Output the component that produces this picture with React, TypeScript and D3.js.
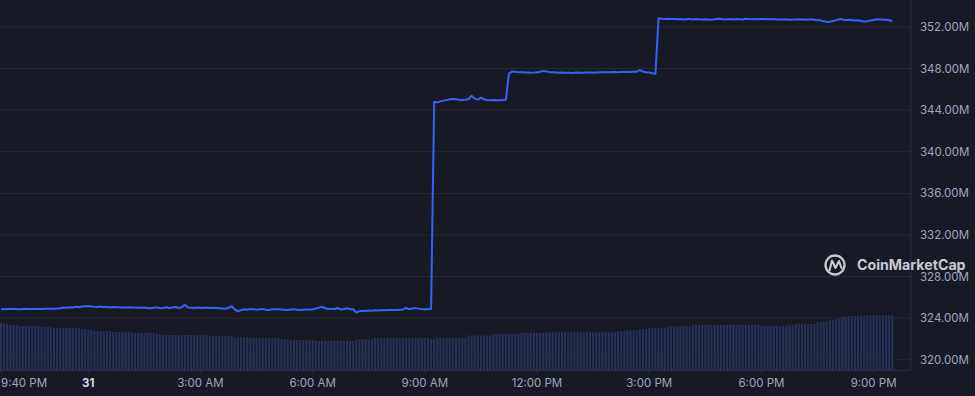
import React, { useEffect, useRef } from "react";
import * as d3 from "d3";

// 5-minute samples, 9:40 PM (30th) through 9:30 PM (31st)
const startTime = "2024-01-30T21:40";
const stepMinutes = 5;

const marketCap = [
  // 9:40 PM -> 9:10 AM
  324.88, 324.87, 324.89, 324.88, 324.90, 324.88, 324.87, 324.89, 324.90, 324.88,
  324.89, 324.90, 324.88, 324.89, 324.91, 324.90, 324.92, 324.91, 324.93, 324.95,
  325.02, 325.00, 325.05, 325.03, 325.10, 325.06, 325.12, 325.15, 325.17, 325.13,
  325.10, 325.08, 325.12, 325.06, 325.09, 325.02, 325.08, 325.05, 325.06, 325.04,
  325.03, 325.05, 325.02, 325.03, 325.01, 325.00, 325.02, 324.97, 324.95, 325.00,
  325.04, 324.96, 324.98, 325.06, 324.99, 325.02, 325.08, 324.98, 325.05, 325.30,
  325.02, 325.00, 324.98, 325.02, 324.99, 325.00, 325.01, 324.98, 325.00, 324.99,
  324.96, 324.93, 324.90, 325.00, 325.15, 324.85, 324.65, 324.78, 324.85, 324.82,
  324.88, 324.86, 324.82, 324.85, 324.88, 324.80, 324.78, 324.85, 324.87, 324.86,
  324.84, 324.80, 324.78, 324.83, 324.85, 324.82, 324.80, 324.82, 324.84, 324.83,
  324.86, 324.92, 325.02, 325.10, 324.95, 324.88, 324.92, 324.86, 324.98, 324.84,
  324.88, 324.95, 324.86, 324.88, 324.55, 324.68, 324.72, 324.70, 324.74, 324.72,
  324.76, 324.75, 324.78, 324.77, 324.79, 324.78, 324.80, 324.79, 324.82, 324.84,
  324.98, 324.86, 324.94, 324.97, 324.92, 324.88, 324.86, 324.87, 324.88,
  // 9:15 AM -> 11:10 AM
  344.82, 344.75, 344.85, 344.92, 344.98, 345.05, 345.08, 345.05, 345.00, 344.98,
  345.00, 345.05, 345.38, 345.10, 345.02, 345.20, 345.05, 344.98, 344.96, 344.97,
  344.95, 344.96, 344.97, 345.00,
  // 11:15 AM -> 3:10 PM
  347.55, 347.72, 347.70, 347.66, 347.64, 347.62, 347.63, 347.60, 347.62, 347.65,
  347.70, 347.78, 347.72, 347.66, 347.64, 347.62, 347.60, 347.62, 347.59, 347.61,
  347.58, 347.60, 347.62, 347.60, 347.61, 347.63, 347.62, 347.60, 347.63, 347.62,
  347.64, 347.66, 347.64, 347.66, 347.68, 347.66, 347.69, 347.67, 347.70, 347.68,
  347.72, 347.70, 347.86, 347.72, 347.65, 347.62, 347.55, 347.50,
  // 3:15 PM -> 9:30 PM
  352.84, 352.80, 352.78, 352.80, 352.76, 352.78, 352.74, 352.76, 352.72, 352.75,
  352.78, 352.73, 352.76, 352.74, 352.73, 352.75, 352.72, 352.70, 352.74, 352.80,
  352.76, 352.72, 352.74, 352.76, 352.73, 352.77, 352.74, 352.72, 352.80, 352.76,
  352.74, 352.76, 352.75, 352.77, 352.76, 352.75, 352.74, 352.76, 352.73, 352.72,
  352.74, 352.73, 352.70, 352.72, 352.72, 352.74, 352.73, 352.70, 352.72, 352.74,
  352.70, 352.66, 352.64, 352.55, 352.48, 352.50, 352.58, 352.66, 352.76, 352.72,
  352.66, 352.70, 352.68, 352.62, 352.65, 352.58, 352.52, 352.55, 352.62, 352.68,
  352.74, 352.72, 352.70, 352.70, 352.64, 352.58,
];

// volume per 5-minute bucket (relative units)
const volume = [
  47, 46, 46, 45, 45, 45, 44, 44, 44, 44, 44, 44, 44, 43, 43, 43, 43, 42, 42, 42,
  42, 42, 42, 42, 42, 41.5, 41, 41, 40, 40, 39, 39, 39, 39, 39, 39, 38, 38, 38, 38,
  38, 38, 38, 37, 37, 37, 37, 37, 37, 37, 36, 36, 35, 35, 35, 35, 35, 35, 35, 35,
  35, 35, 35, 35, 35, 35, 35, 34.3, 34.3, 34.3, 34.3, 34.3, 34.3, 34.3, 34.3, 32.7, 32.7, 32.7,
  32.7, 32.7, 32, 32, 32, 32, 32, 32, 32, 32, 32, 32, 31, 31, 31, 30, 30, 30, 30, 30,
  30, 30, 30, 29, 29, 29, 29, 29, 29, 29, 29, 29, 29, 29, 29, 29, 30.7, 30.7, 30.7, 30.7,
  30.7, 30.7, 32, 32, 32, 32, 32, 32, 32, 32, 32, 32, 32, 32, 32, 32, 32, 32, 32, 32,
  31, 31, 32.3, 32.3, 32.3, 32.3, 32.3, 32.3, 32.3, 32.3, 32.3, 32.3, 34.5, 34.5, 34.5, 34.5,
  34.5, 34.5, 34.5, 34.5, 36, 36, 36, 36, 36, 36, 36, 36, 36, 37, 37, 37, 37, 37,
  37, 37, 37, 37, 37.7, 37.7, 37.7, 37.7, 37.7, 37.7, 37.7, 37.7, 37.7, 37.7, 37.7, 37.7, 37.7, 37.7,
  37.7, 37.7, 37.7, 37.7, 37.7, 37.7, 37.7, 37.7, 38.7, 38.7, 38.7, 39.7, 39.7, 39.7, 39.7, 41,
  41, 41, 42.3, 42.3, 42.3, 42.3, 42.3, 42.3, 43.7, 43.7, 43.7, 43.7, 43.7, 43.7, 43.7, 43.7,
  45, 45, 45, 45, 45, 45, 45, 45, 45, 45, 45, 45, 45, 45.7, 45, 45, 45, 45, 45, 45,
  45, 45, 44, 44, 44, 44, 44, 44, 44, 44, 44, 45, 45, 46, 46, 46, 46, 46, 46, 46,
  47.7, 47.7, 49, 49, 50, 50, 51, 51, 53, 53, 54, 54, 54, 54, 54, 54, 55, 55, 55, 55,
  55, 55, 55, 55, 55,
];

const yTicks = [320, 324, 328, 332, 336, 340, 344, 348, 352];
const xTicks = [
  "2024-01-30T21:40", "2024-01-31T00:00", "2024-01-31T03:00", "2024-01-31T06:00",
  "2024-01-31T09:00", "2024-01-31T12:00", "2024-01-31T15:00", "2024-01-31T18:00",
  "2024-01-31T21:00",
];
const xDomain = ["2024-01-30T21:40", "2024-01-31T22:00"];

const W = 975;
const H = 396;

export default function App() {
  const ref = useRef<SVGSVGElement>(null);

  useEffect(() => {
    const svg = d3.select(ref.current);
    svg.selectAll("*").remove();

    const parse = d3.timeParse("%Y-%m-%dT%H:%M");
    const t0 = parse(startTime) as Date;
    const times = marketCap.map((_, i) => d3.timeMinute.offset(t0, i * stepMinutes));

    const plotRight = 911;
    const plotBottom = 370;

    const x = d3.scaleTime()
      .domain(xDomain.map(d => parse(d) as Date))
      .range([1, plotRight]);

    const y = d3.scaleLinear().domain([320, 352]).range([359.8, 27]);
    const v = d3.scaleLinear().domain([0, 55]).range([plotBottom, 315]);

    svg.append("rect").attr("width", W).attr("height", H).attr("fill", "#171924");

    // volume bars
    svg.append("g")
      .selectAll("rect")
      .data(volume)
      .enter()
      .append("rect")
      .attr("x", (_, i) => x(times[i]) - 1)
      .attr("y", d => v(d))
      .attr("width", 2)
      .attr("height", d => plotBottom - v(d))
      .attr("fill", "#27325c");

    // grid
    svg.append("g")
      .selectAll("line")
      .data(yTicks)
      .enter()
      .append("line")
      .attr("x1", 0)
      .attr("x2", plotRight)
      .attr("y1", d => y(d))
      .attr("y2", d => y(d))
      .attr("stroke", "#2a2d3b")
      .attr("stroke-opacity", 0.8);

    // frame
    svg.append("line")
      .attr("x1", plotRight).attr("x2", plotRight)
      .attr("y1", 0).attr("y2", plotBottom)
      .attr("stroke", "#2a2d3b");
    svg.append("line")
      .attr("x1", 0).attr("x2", plotRight)
      .attr("y1", plotBottom + 0.5).attr("y2", plotBottom + 0.5)
      .attr("stroke", "#2a2d3b");

    // price line
    const line = d3.line<number>()
      .x((_, i) => x(times[i]))
      .y(d => y(d));

    svg.append("path")
      .datum(marketCap)
      .attr("d", line)
      .attr("fill", "none")
      .attr("stroke", "#3861fb")
      .attr("stroke-width", 2)
      .attr("stroke-linejoin", "round");

    // watermark (drawn under the axis labels)
    const wm = svg.append("g").attr("opacity", 0.85);
    wm.append("circle")
      .attr("cx", 835).attr("cy", 265).attr("r", 9.5)
      .attr("fill", "none")
      .attr("stroke", "#e6e8ef")
      .attr("stroke-width", 2.3);
    wm.append("path")
      .attr("d", "M829.5,270.5 L832,260.5 L835.5,268 L839,261 L841.5,268")
      .attr("fill", "none")
      .attr("stroke", "#e6e8ef")
      .attr("stroke-width", 2.1)
      .attr("stroke-linejoin", "round")
      .attr("stroke-linecap", "round");
    wm.append("text")
      .attr("x", 857)
      .attr("y", 265)
      .attr("dy", "0.35em")
      .attr("fill", "#e6e8ef")
      .attr("font-family", "Inter, sans-serif")
      .attr("font-weight", 700)
      .attr("font-size", 14.2)
      .text("CoinMarketCap");

    // y labels
    svg.append("g")
      .selectAll("text")
      .data(yTicks)
      .enter()
      .append("text")
      .attr("x", 920)
      .attr("y", d => y(d))
      .attr("dy", "0.35em")
      .attr("fill", "#a1a7bb")
      .attr("font-family", "Inter, sans-serif")
      .attr("font-size", 11.5)
      .text(d => d3.format(".2f")(d) + "M");

    // x ticks + labels
    const tickDates = xTicks.map(d => parse(d) as Date);
    svg.append("g")
      .selectAll("line")
      .data(tickDates)
      .enter()
      .append("line")
      .attr("x1", d => x(d) + 0.5)
      .attr("x2", d => x(d) + 0.5)
      .attr("y1", plotBottom)
      .attr("y2", plotBottom + 4)
      .attr("stroke", "#2a2d3b");

    const fmtTime = d3.timeFormat("%-I:%M %p");
    const fmtDay = d3.timeFormat("%-d");
    svg.append("g")
      .selectAll("text")
      .data(tickDates)
      .enter()
      .append("text")
      .attr("x", (d, i) => (i === 0 ? 1 : x(d)))
      .attr("y", 387)
      .attr("text-anchor", (_, i) => (i === 0 ? "start" : "middle"))
      .attr("fill", d => (d.getHours() === 0 ? "#cfd6e4" : "#a1a7bb"))
      .attr("font-weight", d => (d.getHours() === 0 ? 700 : 400))
      .attr("font-family", "Inter, sans-serif")
      .attr("font-size", 11.5)
      .text(d => (d.getHours() === 0 ? fmtDay(d) : fmtTime(d)));
  }, []);

  return (
    <svg
      ref={ref}
      width={W}
      height={H}
      style={{ position: "fixed", left: 0, top: 0, display: "block" }}
    />
  );
}
